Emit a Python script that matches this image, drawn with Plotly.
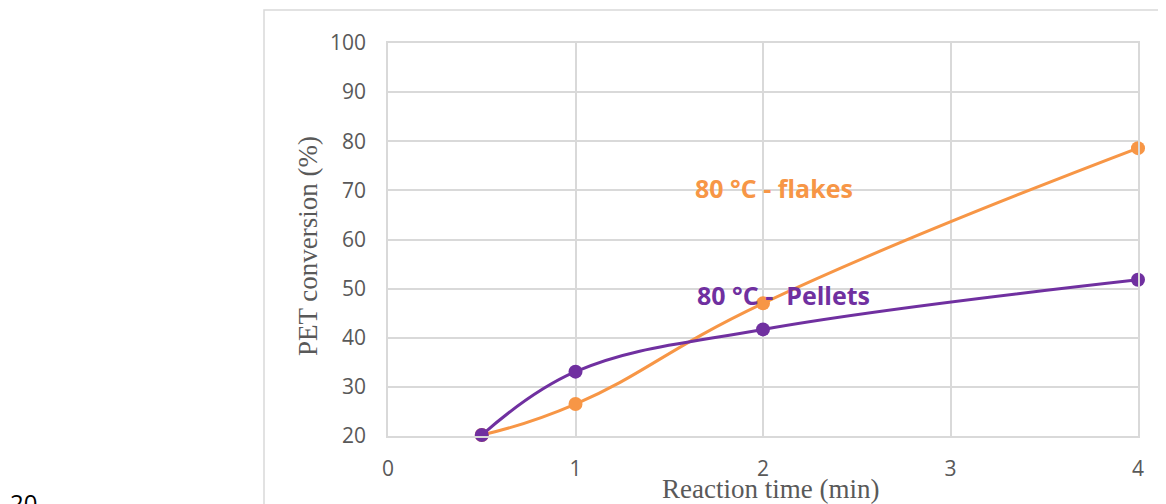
import plotly.graph_objects as go

time_min = [0.5, 1, 2, 4]
flakes = [20.2, 26.5, 47.0, 78.6]
pellets = [20.2, 33.1, 41.7, 51.8]
x_ticks = [0, 1, 2, 3, 4]
y_ticks = [20, 30, 40, 50, 60, 70, 80, 90, 100]

ORANGE = "#F79646"
PURPLE = "#7030A0"
GRID = "#d9d9d9"
TXT = "#595959"

# page body has an 8px margin; the figure is sized/offset to compensate
W, H = 1158, 496
L, T, R, B = 380, 35, 28, 68
pw, ph = W - L - R, H - T - B


def px(xp):
    return (xp - 8 - L) / pw


def py(yp):
    return (H - B - (yp - 8)) / ph


fig = go.Figure()
fig.add_trace(go.Scatter(x=time_min, y=flakes, mode="lines+markers", cliponaxis=False,
                         line=dict(color=ORANGE, width=3, shape="spline", smoothing=1.3),
                         marker=dict(color=ORANGE, size=14), showlegend=False))
fig.add_trace(go.Scatter(x=time_min, y=pellets, mode="lines+markers", cliponaxis=False,
                         line=dict(color=PURPLE, width=3, shape="spline", smoothing=1.1),
                         marker=dict(color=PURPLE, size=14), showlegend=False))

fig.update_layout(
    width=W, height=H,
    margin=dict(l=L, r=R, t=T, b=B),
    paper_bgcolor="white", plot_bgcolor="white",
    font=dict(family="Open Sans", color=TXT),
    xaxis=dict(range=[0, 4], tickvals=x_ticks, showgrid=True, gridcolor=GRID, gridwidth=1.5,
               zeroline=False, showline=True, linecolor=GRID, linewidth=1.5, mirror=True,
               ticks="outside", ticklen=13, tickcolor="rgba(0,0,0,0)",
               tickfont=dict(family="Open Sans", size=21, color=TXT)),
    yaxis=dict(range=[20, 100], tickvals=y_ticks, showgrid=True, gridcolor=GRID, gridwidth=1.5,
               zeroline=False, showline=True, linecolor=GRID, linewidth=1.5, mirror=True,
               ticks="outside", ticklen=16, tickcolor="rgba(0,0,0,0)",
               tickfont=dict(family="Open Sans", size=21, color=TXT)),
    shapes=[dict(type="rect", xref="paper", yref="paper", x0=px(264), x1=px(1190),
                 y0=py(560), y1=py(10),
                 line=dict(color=GRID, width=1.5), fillcolor="rgba(0,0,0,0)", layer="below")],
    annotations=[
        dict(text="80 °C - flakes", x=2.06, y=70.5, xref="x", yref="y", showarrow=False,
             xanchor="center", yanchor="middle",
             font=dict(family="Open Sans", size=25, color=ORANGE, weight="bold")),
        dict(text="80 °C -  Pellets", x=2.11, y=48.7, xref="x", yref="y", showarrow=False,
             xanchor="center", yanchor="middle",
             font=dict(family="Open Sans", size=25, color=PURPLE, weight="bold")),
        dict(text="PET conversion (%)", x=px(308), y=py(246),
             xref="paper", yref="paper", textangle=-90, showarrow=False,
             xanchor="center", yanchor="middle",
             font=dict(family="Liberation Serif", size=27, color=TXT)),
        dict(text="Reaction time (min)", x=px(770), y=py(489),
             xref="paper", yref="paper", showarrow=False, xanchor="center", yanchor="middle",
             font=dict(family="Liberation Serif", size=27, color=TXT)),
        dict(text="20", x=px(8), y=py(484), xref="paper", yref="paper",
             xanchor="left", yanchor="top", showarrow=False,
             font=dict(family="Open Sans", size=24, color="black")),
    ],
)

fig.write_html("out.html")
